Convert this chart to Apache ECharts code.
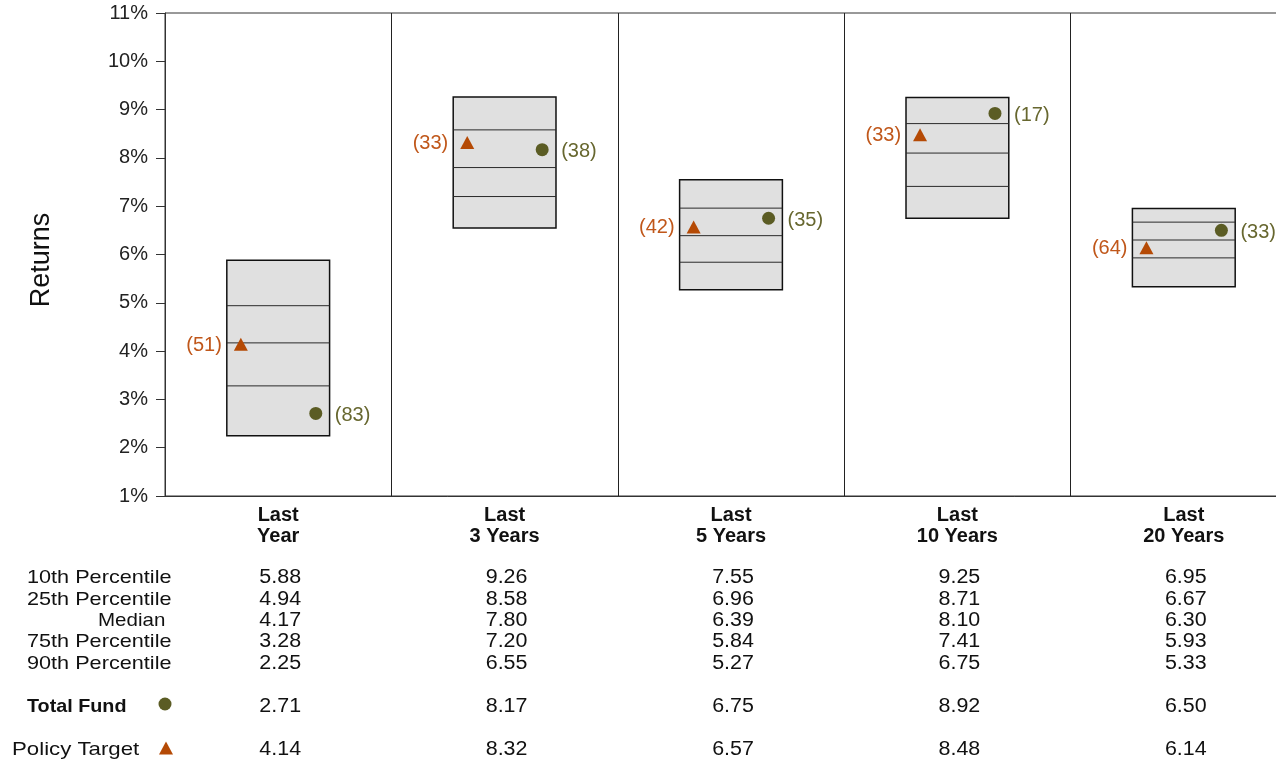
<!DOCTYPE html>
<html>
<head>
<meta charset="utf-8">
<script src="https://cdn.jsdelivr.net/npm/echarts@6/dist/echarts.min.js"></script>
<style>
  html, body { margin: 0; padding: 0; background: #fff; overflow: hidden; }
  /* The last column runs past the right edge of the window */
  #chart { width: 1300px; height: 762px; }
</style>
</head>
<body>
<div id="chart"></div>
<script>
// Periods and percentile ranges of the peer universe
const periods = ['Last\nYear', 'Last\n3 Years', 'Last\n5 Years', 'Last\n10 Years', 'Last\n20 Years'];
const p10 = [5.88, 9.26, 7.55, 9.25, 6.95];
const p25 = [4.94, 8.58, 6.96, 8.71, 6.67];
const median = [4.17, 7.80, 6.39, 8.10, 6.30];
const p75 = [3.28, 7.20, 5.84, 7.41, 5.93];
const p90 = [2.25, 6.55, 5.27, 6.75, 5.33];

// Fund and benchmark returns with their percentile ranks
const totalFund = [2.71, 8.17, 6.75, 8.92, 6.50];
const totalFundRank = [83, 38, 35, 17, 33];
const policyTarget = [4.14, 8.32, 6.57, 8.48, 6.14];
const policyTargetRank = [51, 33, 42, 33, 64];

// Axis and table labels
const yTicks = { min: 1, max: 11, step: 1 };
const statRows = ['10th Percentile', '25th Percentile', 'Median', '75th Percentile', '90th Percentile'];

const FONT = "'Liberation Sans', Arial, Helvetica, sans-serif";
const FUND_COLOR = '#5b5c24';
const FUND_LABEL = '#67672f';
const POLICY_COLOR = '#b54a05';
const POLICY_LABEL = '#c0571a';

const chart = echarts.init(document.getElementById('chart'));

function trianglePoints(x, y, w, h) {
  return [[x, y - h / 2], [x + w / 2, y + h / 2], [x - w / 2, y + h / 2]];
}

// Table rows under each column: [values, y]
const tableRows = [
  [p10, 578], [p25, 600], [median, 621], [p75, 642], [p90, 664],
  [totalFund, 707], [policyTarget, 750]
];

const option = {
  animation: false,
  backgroundColor: '#fff',
  grid: {
    left: 165, top: 13, width: 1132, height: 483,
    show: true, borderColor: '#333', borderWidth: 1, backgroundColor: 'transparent'
  },
  xAxis: {
    type: 'category',
    data: periods,
    boundaryGap: true,
    axisLine: { show: true, lineStyle: { color: '#333', width: 1 } },
    axisTick: { show: false },
    splitLine: { show: true, interval: 0, lineStyle: { color: '#222', width: 1 } },
    axisLabel: {
      interval: 0, margin: 9,
      fontFamily: FONT, fontSize: 20, fontWeight: 'bold', color: '#111', lineHeight: 21
    }
  },
  yAxis: {
    type: 'value',
    min: yTicks.min, max: yTicks.max, interval: yTicks.step,
    axisLine: { show: true, lineStyle: { color: '#333', width: 1 } },
    axisTick: { show: true, length: 9, lineStyle: { color: '#333' } },
    splitLine: { show: false },
    axisLabel: {
      margin: 17, fontFamily: FONT, fontSize: 20, color: '#222',
      formatter: '{value}%'
    }
  },
  graphic: [
    {
      type: 'text', x: 42, y: 260, rotation: Math.PI / 2,
      style: { text: 'Returns', font: "27px " + FONT, fill: '#111', align: 'center', verticalAlign: 'middle' }
    },
    ...statRows.map((label, j) => ({
      type: 'text',
      x: label === 'Median' ? 98 : 27,
      y: tableRows[j][1],
      scaleX: label === 'Median' ? 1.08 : 1.14,
      style: { text: label, font: "19px " + FONT, fill: '#111', verticalAlign: 'middle' }
    })),
    {
      type: 'text', x: 27, y: 707, scaleX: 1.04,
      style: { text: 'Total Fund', font: "bold 19px " + FONT, fill: '#111', verticalAlign: 'middle' }
    },
    {
      type: 'circle', shape: { cx: 165, cy: 704, r: 6.5 }, style: { fill: FUND_COLOR }
    },
    {
      type: 'text', x: 12, y: 750, scaleX: 1.17,
      style: { text: 'Policy Target', font: "19px " + FONT, fill: '#111', verticalAlign: 'middle' }
    },
    {
      type: 'polygon', shape: { points: trianglePoints(166, 748, 14, 13) }, style: { fill: POLICY_COLOR }
    }
  ],
  series: [
    {
      // Floating percentile boxes with quartile/median lines
      type: 'custom',
      name: 'Universe',
      data: periods.map((_, i) => [i, p90[i], p75[i], median[i], p25[i], p10[i]]),
      encode: { x: 0, y: [1, 2, 3, 4, 5] },
      renderItem: function (params, api) {
        const i = api.value(0);
        const half = api.size([1, 0])[0] * 0.227;
        const top = api.coord([i, api.value(5)]);
        const bottom = api.coord([i, api.value(1)]);
        const cx = top[0];
        const children = [{
          type: 'rect',
          shape: { x: cx - half, y: top[1], width: half * 2, height: bottom[1] - top[1] },
          style: { fill: '#e0e0e0', stroke: '#111', lineWidth: 1.5 }
        }];
        [2, 3, 4].forEach(function (k) {
          const y = api.coord([i, api.value(k)])[1];
          children.push({
            type: 'line',
            shape: { x1: cx - half, y1: y, x2: cx + half, y2: y },
            style: { stroke: '#2a2a2a', lineWidth: 1 }
          });
        });
        return { type: 'group', children: children };
      },
      z: 2
    },
    {
      // Policy target: triangle on the left of each box, rank label to its left
      type: 'custom',
      name: 'Policy Target',
      data: periods.map((_, i) => [i, policyTarget[i], policyTargetRank[i]]),
      encode: { x: 0, y: 1 },
      renderItem: function (params, api) {
        const i = api.value(0);
        const p = api.coord([i, api.value(1)]);
        const x = p[0] - api.size([1, 0])[0] * 0.165;
        return {
          type: 'group',
          children: [
            { type: 'polygon', shape: { points: trianglePoints(x, p[1], 14, 13) }, style: { fill: POLICY_COLOR } },
            {
              type: 'text', x: x - 19, y: p[1] + 1,
              style: { text: '(' + api.value(2) + ')', font: "20px " + FONT, fill: POLICY_LABEL, align: 'right', verticalAlign: 'middle' }
            }
          ]
        };
      },
      z: 3
    },
    {
      // Total fund: circle on the right of each box, rank label to its right
      type: 'custom',
      name: 'Total Fund',
      data: periods.map((_, i) => [i, totalFund[i], totalFundRank[i]]),
      encode: { x: 0, y: 1 },
      renderItem: function (params, api) {
        const i = api.value(0);
        const p = api.coord([i, api.value(1)]);
        const x = p[0] + api.size([1, 0])[0] * 0.166;
        return {
          type: 'group',
          children: [
            { type: 'circle', shape: { cx: x, cy: p[1], r: 6.5 }, style: { fill: FUND_COLOR } },
            {
              type: 'text', x: x + 19, y: p[1] + 2,
              style: { text: '(' + api.value(2) + ')', font: "20px " + FONT, fill: FUND_LABEL, align: 'left', verticalAlign: 'middle' }
            }
          ]
        };
      },
      z: 3
    },
    {
      // Value table below the plot, one column per period
      type: 'custom',
      name: 'Table',
      clip: false,
      silent: true,
      data: periods.map((_, i) => [i, yTicks.min]),
      encode: { x: 0, y: 1 },
      renderItem: function (params, api) {
        const i = api.value(0);
        const x = api.coord([i, yTicks.min])[0] + 2;
        return {
          type: 'group',
          children: tableRows.map(function (row) {
            return {
              type: 'text', x: x, y: row[1], scaleX: 1.1,
              style: { text: row[0][i].toFixed(2), font: "19.5px " + FONT, fill: '#111', align: 'center', verticalAlign: 'middle' }
            };
          })
        };
      },
      z: 3
    }
  ]
};

chart.setOption(option);
</script>
</body>
</html>
